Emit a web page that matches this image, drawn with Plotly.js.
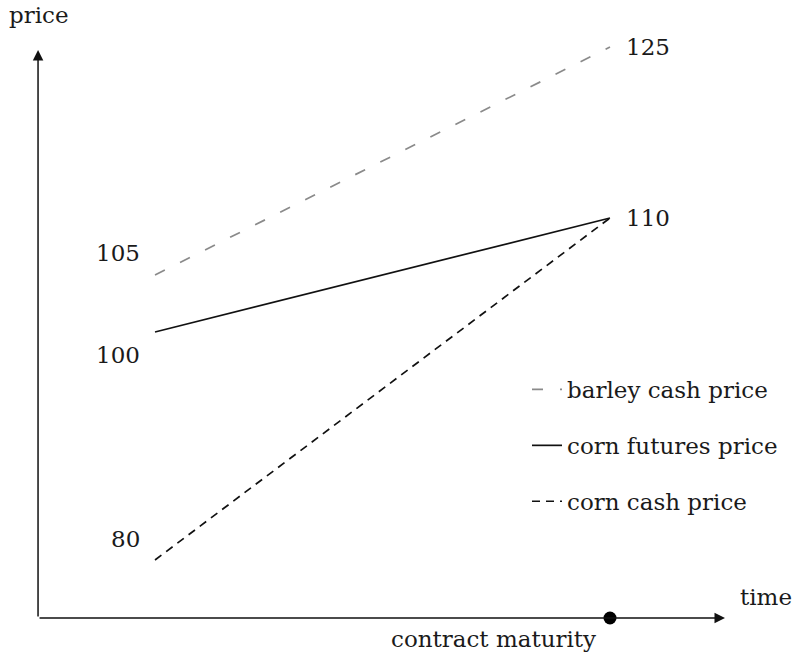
<!DOCTYPE html>
<html>
<head>
<meta charset="utf-8">
<script src="https://cdn.plot.ly/plotly-3.0.1.min.js"></script>
<style>html,body{margin:0;padding:0;background:#fff;}#chart{width:793px;height:654px;}</style>
</head>
<body>
<div id="chart"></div>
<script>
// ---- data ----
const times = [0, 1];                 // start, contract maturity
const barleyCash = [105, 125];
const cornFutures = [100, 110];
const cornCash = [80, 110];
const seriesNames = ["barley cash price", "corn futures price", "corn cash price"];
const maturityLabel = "contract maturity";
const xAxisLabel = "time";
const yAxisLabel = "price";

// ---- layout constants ----
const FONT = "DejaVu Serif, Liberation Serif, serif";
const FS = 23;
const TXT = "#1a1a1a";
const xr = [-0.3407, 1.4022];
const yr = [71.754, 129.12];
const origin = {x: -0.2571, y: 74.912};
const xTip = 1.2527, yTip = 124.74;

const traces = [
  {x: times, y: barleyCash, name: seriesNames[0], mode: "lines", legendgroup: "a",
   line: {color: "#8a8a8a", width: 1.7, dash: "11px,8px"}},
  {x: times, y: cornFutures, name: seriesNames[1], mode: "lines", legendgroup: "b",
   line: {color: "#111", width: 1.7}},
  {x: times, y: cornCash, name: seriesNames[2], mode: "lines", legendgroup: "c",
   line: {color: "#111", width: 1.7, dash: "8px,6px"}},
  {x: [times[1]], y: [origin.y], mode: "markers", showlegend: false, cliponaxis: false,
   marker: {color: "#000", size: 13}}
];
// barley line in the plot uses wider gaps than its legend sample
traces[0].line.dash = "11px,17px";

const ann = [];
// axes with arrows
ann.push({x: xTip, y: origin.y, ax: origin.x, ay: origin.y, xref: "x", yref: "y", axref: "x", ayref: "y",
  showarrow: true, arrowhead: 2, arrowsize: 1.4, arrowwidth: 1.5, arrowcolor: "#111", text: ""});
ann.push({x: origin.x, y: yTip, ax: origin.x, ay: origin.y, xref: "x", yref: "y", axref: "x", ayref: "y",
  showarrow: true, arrowhead: 2, arrowsize: 1.4, arrowwidth: 1.5, arrowcolor: "#111", text: ""});
// axis labels
ann.push({x: origin.x, y: yTip, xref: "x", yref: "y", text: yAxisLabel, showarrow: false,
  xanchor: "center", yanchor: "bottom", xshift: 1, yshift: 20, font: {family: FONT, size: FS, color: TXT}});
ann.push({x: xTip, y: origin.y, xref: "x", yref: "y", text: xAxisLabel, showarrow: false,
  xanchor: "left", yanchor: "bottom", xshift: 13, yshift: 6, font: {family: FONT, size: FS, color: TXT}});
ann.push({x: times[1], y: origin.y, xref: "x", yref: "y", text: maturityLabel, showarrow: false,
  xanchor: "right", yanchor: "top", xshift: -12, yshift: -6, font: {family: FONT, size: FS, color: TXT}});
// start value labels
const startShift = [22, -23, 21];
[barleyCash, cornFutures, cornCash].forEach((s, i) => {
  ann.push({x: times[0], y: s[0], xref: "x", yref: "y", text: String(s[0]), showarrow: false,
    xanchor: "right", yanchor: "middle", xshift: -13, yshift: startShift[i], font: {family: FONT, size: FS, color: TXT}});
});
// end value labels (unique)
[barleyCash[1], cornFutures[1]].forEach(v => {
  ann.push({x: times[1], y: v, xref: "x", yref: "y", text: String(v), showarrow: false,
    xanchor: "left", yanchor: "middle", xshift: 14, yshift: 0, font: {family: FONT, size: FS, color: TXT}});
});

const layout = {
  width: 793, height: 654,
  margin: {l: 0, r: 0, t: 0, b: 0},
  paper_bgcolor: "#fff", plot_bgcolor: "#fff",
  xaxis: {range: xr, visible: false, fixedrange: true},
  yaxis: {range: yr, visible: false, fixedrange: true},
  showlegend: true,
  legend: {x: 527/793, y: 1 - 368/654, xanchor: "left", yanchor: "top",
    traceorder: "grouped", tracegroupgap: 23, bgcolor: "rgba(0,0,0,0)",
    font: {family: FONT, size: FS, color: TXT}},
  annotations: ann
};

Plotly.newPlot("chart", traces, layout, {displayModeBar: false, staticPlot: true});
</script>
</body>
</html>
